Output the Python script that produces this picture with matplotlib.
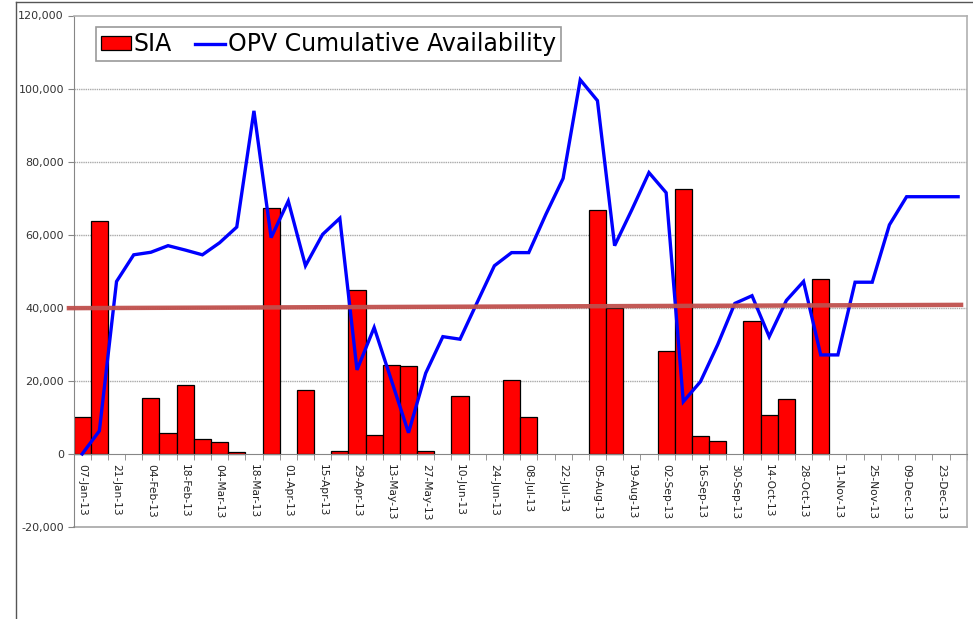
import numpy as np
import pandas as pd
import matplotlib
matplotlib.use("Agg")
import matplotlib.pyplot as plt
from matplotlib.lines import Line2D
from matplotlib.ticker import FuncFormatter

# ---- data ----
weeks = pd.date_range("2013-01-07", periods=52, freq="7D")
categories = [d.strftime("%d-%b-%y") for d in weeks]

sia = [10100, 63800, 0, 0, 15200, 5800, 18900, 4000, 3400, 600,
       0, 67200, 0, 17500, 0, 900, 44900, 5200, 24300, 24000,
       700, 0, 15900, 0, 0, 20100, 10100, 0, 0, 0,
       66800, 39900, 0, 0, 28200, 72400, 5000, 3600, 0, 36400,
       10700, 15000, 0, 47900, 0, 0, 0, 0, 0, 0,
       0, 0]

opv = [0, 6300, 47200, 54500, 55200, 57000, 55800, 54500, 57800, 62100,
       93900, 59200, 69200, 51500, 60100, 64500, 23000, 34600, 20200, 5800,
       22100, 32100, 31400, 41500, 51500, 55100, 55100, 65600, 75400, 102400,
       96700, 57000, 66800, 77000, 71500, 14300, 19800, 29900, 41200, 43300,
       32100, 42000, 47200, 27100, 27100, 47000, 47000, 62700, 70400, 70400,
       70400, 70400]

threshold = [39900, 40800]          # drawn reference line (left end, right end)
yticks = list(range(-20000, 120001, 20000))

# ---- figure ----
W, H = 973, 619
fig = plt.figure(figsize=(W / 100, H / 100), dpi=100)
fig.patch.set_facecolor("white")
left, right, top, bottom = 73.6, 966.7, 15.5, 527
ax = fig.add_axes([left / W, 1 - bottom / H, (right - left) / W, (bottom - top) / H])

x = np.arange(len(categories))
ax.set_xlim(-0.5, len(categories) - 0.5)
ax.set_ylim(-20000, 120000)

# gridlines
for v in yticks[2:-1]:
    ax.axhline(v, color="#aaaaaa", lw=1.0, ls=(0, (1, 0.6)), zorder=0)
ax.axhline(-20000, color="#a6a6a6", lw=1.2, zorder=0, clip_on=False)

sia_arr = np.array(sia, dtype=float)
mask = sia_arr > 0
bars = ax.bar(x[mask], sia_arr[mask], width=1.0, color="#ff0000", edgecolor="black",
              linewidth=0.9, zorder=2, label="SIA")
line, = ax.plot(x, opv, color="#0000ff", lw=2.4, zorder=3,
                label="OPV Cumulative Availability", solid_joinstyle="miter")

ax.plot([-0.9, len(categories) - 0.7], threshold, color="#c0504d", lw=3.2, alpha=0.95,
        zorder=4, clip_on=False, solid_capstyle="butt")

# spines
ax.spines["left"].set_color("#868686")
ax.spines["bottom"].set_position(("data", 0))
ax.spines["bottom"].set_color("#868686")
for s in ("top", "right"):
    ax.spines[s].set_color("#b0b0b0")
    ax.spines[s].set_linewidth(1.2)

# y ticks
ax.set_yticks(yticks)
ax.yaxis.set_major_formatter(FuncFormatter(lambda v, p: f"{v:,.0f}"))
ax.tick_params(axis="y", length=4, color="#868686", labelsize=8,
               labelcolor="#333333", pad=3)

# x ticks
ax.set_xticks(x[::2])
ax.set_xticklabels(categories[::2], rotation=270, fontsize=7.7, color="#222222")
ax.set_xticks(np.arange(-0.5, len(categories), 1.0), minor=True)
ax.tick_params(axis="x", which="major", length=0, pad=7)
ax.tick_params(axis="x", which="minor", length=4, color="#868686")

# legend
leg = fig.legend(handles=[bars, line], labels=["SIA", "OPV Cumulative Availability"],
                 loc="upper left", bbox_to_anchor=(96 / W, 1 - 27 / H),
                 ncol=2, fontsize=17, frameon=True, fancybox=False,
                 edgecolor="#808080", borderpad=0.22, handlelength=1.25,
                 handleheight=0.5, handletextpad=0.12, columnspacing=1.0,
                 borderaxespad=0)
leg.get_frame().set_linewidth(1.2)

# outer chart frame (left and top edges)
fig.add_artist(Line2D([16 / W, 16 / W], [0, 1 - 2 / H], transform=fig.transFigure,
                      color="#555555", lw=1))
fig.add_artist(Line2D([16 / W, 1], [1 - 2 / H, 1 - 2 / H], transform=fig.transFigure,
                      color="#555555", lw=1))

fig.savefig("out.png", dpi=100)
